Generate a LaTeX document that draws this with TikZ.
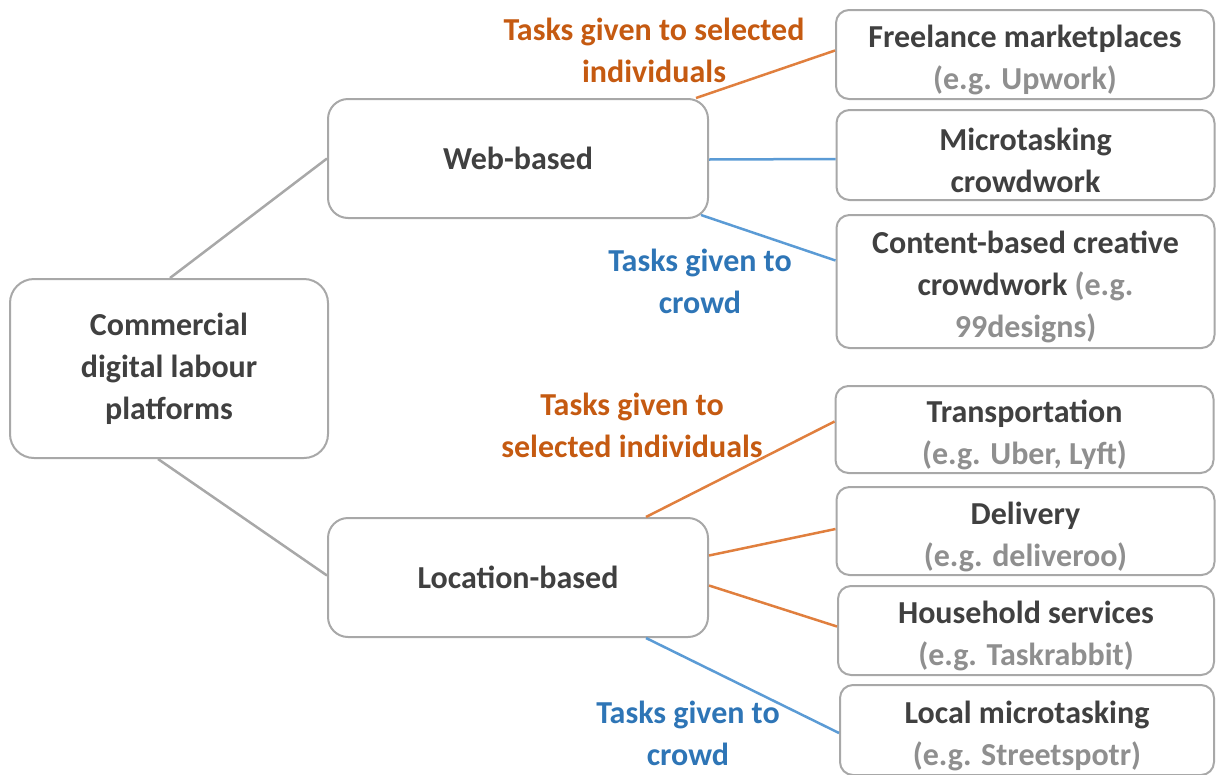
\documentclass[tikz,border=0pt]{standalone}
\usepackage{fontspec}
\setmainfont{Carlito}
\usetikzlibrary{calc}
\definecolor{txt}{HTML}{404040}
\definecolor{eg}{HTML}{8F8F8F}
\definecolor{boxline}{HTML}{A8A8A8}
\definecolor{orline}{HTML}{E07F3E}
\definecolor{ortext}{HTML}{C55A11}
\definecolor{blline}{HTML}{5B9BD5}
\definecolor{bltext}{HTML}{2E75B6}
\newcommand{\topgap}{\rule{0pt}{34pt}}
\begin{document}
\begin{tikzpicture}[x=1pt,y=-1pt,
  font=\bfseries\fontsize{32}{42}\selectfont,
  box/.style={draw=boxline, line width=2pt, fill=white, text=txt, align=center, inner sep=0pt},
  bigbox/.style={box, rounded corners=24pt},
  midbox/.style={box, rounded corners=20pt, minimum width=380pt, minimum height=119pt},
  smallbox/.style={box, rounded corners=13pt, minimum width=378pt},
  grayline/.style={draw=boxline, line width=2.5pt},
  orange/.style={draw=orline, line width=2.5pt},
  blue/.style={draw=blline, line width=2.5pt},
  orlabel/.style={text=ortext, align=center},
  bllabel/.style={text=bltext, align=center}]
\useasboundingbox (0,0) rectangle (1217,774);

\node[bigbox, minimum width=318pt, minimum height=179pt] (root) at (169,368.5)
  {Commercial\\digital labour\\platforms};
\node[midbox] (web) at (518,158.5) {Web-based};
\node[midbox] (loc) at (518,577.5) {Location-based};

\node[smallbox, minimum height=89pt] (free) at (1025,54.5)
  {\topgap Freelance marketplaces\\\textcolor{eg}{(e.g. Upwork)}};
\node[smallbox, minimum height=90pt] (micro) at (1025.5,155)
  {\topgap Microtasking\\crowdwork};
\node[smallbox, minimum height=133pt] (cont) at (1025.5,281.5)
  {\topgap Content-based creative\\crowdwork \textcolor{eg}{(e.g.}\\\textcolor{eg}{99designs)}};

\node[smallbox, minimum height=87pt] (trans) at (1024.5,429.5)
  {\topgap Transportation\\\textcolor{eg}{(e.g. Uber, Lyft)}};
\node[smallbox, minimum height=88pt] (deliv) at (1025.5,531)
  {\topgap Delivery\\\textcolor{eg}{(e.g. deliveroo)}};
\node[smallbox, minimum height=89pt, minimum width=376pt] (house) at (1026,630.5)
  {\topgap Household services\\\textcolor{eg}{(e.g. Taskrabbit)}};
\node[smallbox, minimum height=90pt, minimum width=374pt] (local) at (1027,730)
  {\topgap Local microtasking\\\textcolor{eg}{(e.g. Streetspotr)}};

\coordinate (rootN) at ($(root.north)+(1,0)$);
\coordinate (rootS) at ($(root.south)+(-11,0)$);
\draw[grayline] (rootN) -- (web.west);
\draw[grayline] (rootS) -- ($(loc.west)+(0,-2)$);

\draw[orange] ($(web.north east)+(-13,0)$) -- ($(free.west)+(0,-4)$);
\draw[blue] ($(web.east)+(0,1)$) -- ($(micro.west)+(0,4)$);
\draw[blue] ($(web.south east)+(-8,-4)$) -- ($(cont.west)+(0,-21)$);

\draw[orange] ($(loc.north east)+(-63,0)$) -- ($(trans.west)+(0,-8)$);
\draw[orange] ($(loc.east)+(0,-22)$) -- ($(deliv.west)+(0,-2)$);
\draw[orange] ($(loc.east)+(0,8)$) -- ($(house.west)+(0,-4)$);
\draw[blue] ($(loc.south east)+(-63,0)$) -- ($(local.west)+(0,3)$);

\node[orlabel] (lab1) at (654,50) {Tasks given to selected\\individuals};
\node[bllabel] (lab2) at (700,281) {Tasks given to\\crowd};
\node[orlabel] (lab3) at (632,425) {Tasks given to\\selected individuals};
\node[bllabel] (lab4) at (688,733) {Tasks given to\\crowd};
\end{tikzpicture}
\end{document}
